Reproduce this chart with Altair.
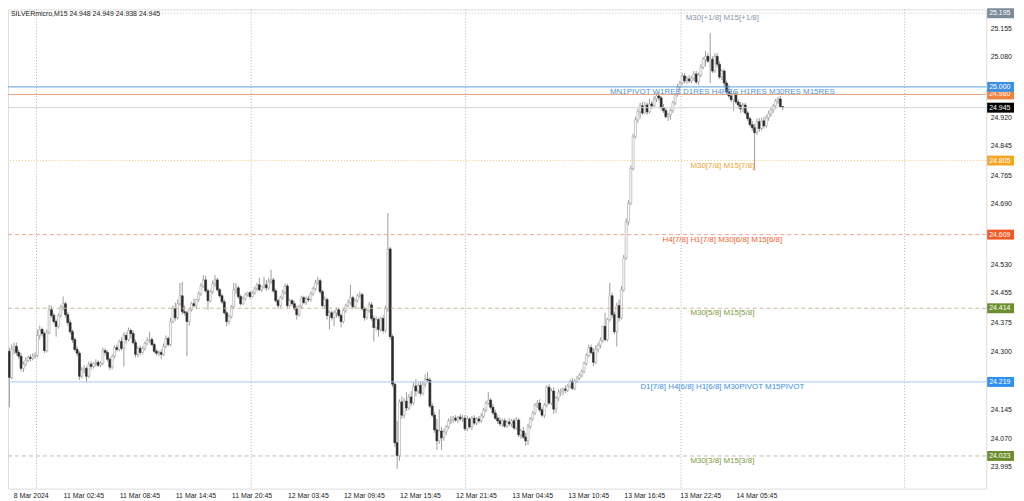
import json
import altair as alt
import pandas as pd

# ---------------- data (SILVERmicro, M15) ----------------
opens = [
    24.300, 24.231, 24.305, 24.313, 24.297, 24.287, 24.255, 24.266, 24.276, 24.284,
    24.281, 24.287, 24.289, 24.342, 24.358, 24.347, 24.302, 24.350, 24.410, 24.395,
    24.379, 24.366, 24.395, 24.418, 24.426, 24.397, 24.376, 24.352, 24.331, 24.305,
    24.295, 24.234, 24.250, 24.255, 24.234, 24.266, 24.260, 24.268, 24.271, 24.263,
    24.268, 24.302, 24.297, 24.279, 24.258, 24.287, 24.310, 24.305, 24.326, 24.308,
    24.342, 24.331, 24.355, 24.347, 24.323, 24.292, 24.308, 24.297, 24.308, 24.321,
    24.329, 24.331, 24.318, 24.300, 24.295, 24.297, 24.292, 24.313, 24.334, 24.318,
    24.379, 24.413, 24.389, 24.426, 24.447, 24.405, 24.402, 24.379, 24.410, 24.426,
    24.421, 24.437, 24.452, 24.473, 24.489, 24.460, 24.434, 24.458, 24.479, 24.489,
    24.463, 24.447, 24.431, 24.402, 24.379, 24.392, 24.418, 24.463, 24.468, 24.445,
    24.426, 24.439, 24.450, 24.455, 24.445, 24.455, 24.466, 24.476, 24.463, 24.471,
    24.476, 24.468, 24.484, 24.489, 24.460, 24.434, 24.421, 24.442, 24.455, 24.473,
    24.421, 24.434, 24.426, 24.413, 24.397, 24.418, 24.442, 24.429, 24.439, 24.437,
    24.452, 24.466, 24.481, 24.487, 24.458, 24.421, 24.437, 24.395, 24.402, 24.389,
    24.402, 24.410, 24.395, 24.379, 24.408, 24.421, 24.429, 24.442, 24.418, 24.434,
    24.447, 24.450, 24.413, 24.389, 24.408, 24.423, 24.387, 24.363, 24.384, 24.358,
    24.387, 24.355, 24.413, 24.571, 24.339, 24.213, 24.058, 24.024, 24.166, 24.131,
    24.168, 24.150, 24.179, 24.163, 24.208, 24.195, 24.210, 24.189, 24.213, 24.226,
    24.224, 24.155, 24.131, 24.092, 24.063, 24.089, 24.071, 24.087, 24.100, 24.116,
    24.118, 24.123, 24.118, 24.126, 24.121, 24.123, 24.095, 24.121, 24.100, 24.123,
    24.110, 24.121, 24.116, 24.129, 24.145, 24.163, 24.171, 24.152, 24.137, 24.123,
    24.116, 24.108, 24.116, 24.102, 24.113, 24.108, 24.116, 24.097, 24.118, 24.079,
    24.089, 24.073, 24.063, 24.100, 24.121, 24.137, 24.158, 24.163, 24.145, 24.131,
    24.158, 24.205, 24.163, 24.195, 24.147, 24.176, 24.192, 24.195, 24.200, 24.197,
    24.208, 24.221, 24.202, 24.221, 24.229, 24.237, 24.247, 24.268, 24.289, 24.310,
    24.297, 24.271, 24.305, 24.316, 24.329, 24.366, 24.331, 24.384, 24.447, 24.397,
    24.352, 24.421, 24.389, 24.463, 24.547, 24.642, 24.692, 24.784, 24.868, 24.913,
    24.934, 24.950, 24.931, 24.952, 24.934, 24.955, 24.950, 24.968, 24.976, 24.971,
    24.945, 24.937, 24.921, 24.926, 24.937, 24.958, 24.979, 25.000, 25.010, 25.029,
    25.016, 25.021, 25.016, 25.023, 25.034, 25.013, 25.031, 25.052, 25.073, 25.081,
    25.068, 25.073, 25.042, 25.081, 25.060, 25.026, 25.042, 25.010, 24.987, 24.976,
    24.966, 24.981, 24.960, 24.952, 24.942, 24.952, 24.931, 24.916, 24.900, 24.892,
    24.879, 24.908, 24.890, 24.910, 24.897, 24.918, 24.929, 24.939, 24.950, 24.963,
    24.968, 24.948,
]
highs = [
    24.310, 24.318, 24.323, 24.323, 24.305, 24.295, 24.273, 24.284, 24.289, 24.292,
    24.295, 24.297, 24.358, 24.368, 24.363, 24.352, 24.358, 24.423, 24.421, 24.402,
    24.384, 24.400, 24.423, 24.445, 24.431, 24.405, 24.384, 24.358, 24.337, 24.313,
    24.300, 24.258, 24.263, 24.260, 24.273, 24.273, 24.271, 24.279, 24.276, 24.273,
    24.310, 24.308, 24.302, 24.284, 24.292, 24.316, 24.318, 24.331, 24.337, 24.350,
    24.350, 24.363, 24.360, 24.355, 24.331, 24.313, 24.316, 24.313, 24.326, 24.337,
    24.352, 24.337, 24.323, 24.305, 24.302, 24.305, 24.321, 24.342, 24.339, 24.389,
    24.421, 24.429, 24.437, 24.481, 24.484, 24.421, 24.408, 24.416, 24.431, 24.439,
    24.439, 24.458, 24.481, 24.502, 24.500, 24.466, 24.463, 24.487, 24.502, 24.495,
    24.468, 24.452, 24.437, 24.408, 24.397, 24.423, 24.481, 24.481, 24.473, 24.450,
    24.445, 24.455, 24.458, 24.460, 24.460, 24.471, 24.481, 24.495, 24.473, 24.497,
    24.489, 24.495, 24.516, 24.495, 24.466, 24.439, 24.447, 24.463, 24.479, 24.479,
    24.439, 24.439, 24.434, 24.421, 24.423, 24.447, 24.447, 24.445, 24.447, 24.458,
    24.471, 24.489, 24.497, 24.492, 24.463, 24.445, 24.442, 24.408, 24.408, 24.408,
    24.416, 24.416, 24.400, 24.413, 24.426, 24.437, 24.476, 24.447, 24.439, 24.452,
    24.458, 24.455, 24.418, 24.413, 24.431, 24.431, 24.395, 24.392, 24.389, 24.392,
    24.395, 24.421, 24.666, 24.576, 24.345, 24.218, 24.116, 24.173, 24.181, 24.176,
    24.192, 24.187, 24.195, 24.218, 24.226, 24.218, 24.221, 24.221, 24.239, 24.245,
    24.231, 24.163, 24.139, 24.121, 24.147, 24.100, 24.095, 24.105, 24.123, 24.129,
    24.129, 24.131, 24.129, 24.134, 24.131, 24.131, 24.129, 24.126, 24.129, 24.131,
    24.126, 24.129, 24.137, 24.150, 24.168, 24.192, 24.176, 24.160, 24.145, 24.131,
    24.126, 24.121, 24.123, 24.118, 24.123, 24.121, 24.123, 24.126, 24.123, 24.095,
    24.100, 24.084, 24.108, 24.126, 24.142, 24.163, 24.171, 24.173, 24.152, 24.163,
    24.210, 24.213, 24.202, 24.205, 24.181, 24.200, 24.202, 24.205, 24.210, 24.213,
    24.226, 24.229, 24.226, 24.234, 24.242, 24.252, 24.273, 24.295, 24.318, 24.318,
    24.308, 24.316, 24.323, 24.337, 24.368, 24.402, 24.389, 24.481, 24.455, 24.405,
    24.429, 24.437, 24.473, 24.555, 24.652, 24.700, 24.792, 24.876, 24.921, 24.942,
    24.958, 24.960, 24.960, 24.958, 24.968, 24.963, 24.976, 24.984, 24.987, 24.976,
    24.955, 24.945, 24.931, 24.942, 24.963, 24.984, 25.008, 25.016, 25.037, 25.037,
    25.029, 25.031, 25.029, 25.042, 25.042, 25.037, 25.060, 25.079, 25.095, 25.089,
    25.142, 25.081, 25.089, 25.089, 25.068, 25.047, 25.047, 25.016, 25.005, 24.995,
    24.989, 24.987, 24.966, 24.960, 24.958, 24.958, 24.937, 24.921, 24.910, 24.902,
    24.916, 24.918, 24.918, 24.921, 24.926, 24.937, 24.947, 24.955, 24.968, 24.974,
    24.976, 24.949,
]
lows = [
    24.152, 24.226, 24.292, 24.289, 24.279, 24.247, 24.245, 24.260, 24.271, 24.273,
    24.276, 24.281, 24.284, 24.331, 24.339, 24.295, 24.297, 24.345, 24.389, 24.374,
    24.339, 24.360, 24.389, 24.408, 24.389, 24.368, 24.345, 24.323, 24.300, 24.287,
    24.224, 24.229, 24.242, 24.218, 24.229, 24.252, 24.255, 24.260, 24.258, 24.258,
    24.263, 24.289, 24.273, 24.250, 24.252, 24.281, 24.300, 24.300, 24.302, 24.260,
    24.321, 24.326, 24.334, 24.318, 24.284, 24.284, 24.289, 24.292, 24.302, 24.316,
    24.323, 24.313, 24.295, 24.289, 24.287, 24.279, 24.287, 24.308, 24.313, 24.313,
    24.374, 24.381, 24.384, 24.421, 24.397, 24.395, 24.287, 24.368, 24.405, 24.416,
    24.413, 24.431, 24.447, 24.468, 24.455, 24.410, 24.429, 24.452, 24.471, 24.458,
    24.442, 24.426, 24.397, 24.366, 24.371, 24.387, 24.413, 24.452, 24.439, 24.421,
    24.423, 24.434, 24.445, 24.439, 24.442, 24.450, 24.460, 24.460, 24.458, 24.466,
    24.460, 24.463, 24.479, 24.455, 24.429, 24.413, 24.416, 24.437, 24.450, 24.413,
    24.416, 24.421, 24.408, 24.384, 24.392, 24.413, 24.426, 24.423, 24.431, 24.431,
    24.447, 24.460, 24.476, 24.452, 24.416, 24.413, 24.384, 24.358, 24.381, 24.366,
    24.389, 24.389, 24.363, 24.374, 24.402, 24.416, 24.423, 24.413, 24.413, 24.429,
    24.442, 24.408, 24.381, 24.384, 24.402, 24.381, 24.326, 24.355, 24.339, 24.352,
    24.347, 24.350, 24.405, 24.331, 24.205, 24.047, 23.989, 24.010, 24.121, 24.123,
    24.142, 24.145, 24.155, 24.158, 24.181, 24.187, 24.181, 24.184, 24.205, 24.218,
    24.150, 24.126, 24.084, 24.039, 24.055, 24.039, 24.063, 24.079, 24.095, 24.108,
    24.110, 24.113, 24.110, 24.116, 24.113, 24.089, 24.089, 24.095, 24.092, 24.105,
    24.105, 24.110, 24.110, 24.123, 24.139, 24.158, 24.147, 24.131, 24.118, 24.108,
    24.102, 24.100, 24.097, 24.097, 24.102, 24.100, 24.092, 24.092, 24.073, 24.068,
    24.068, 24.050, 24.052, 24.095, 24.116, 24.131, 24.150, 24.139, 24.126, 24.123,
    24.152, 24.158, 24.158, 24.134, 24.137, 24.168, 24.181, 24.184, 24.189, 24.192,
    24.202, 24.197, 24.197, 24.216, 24.224, 24.231, 24.242, 24.263, 24.284, 24.292,
    24.260, 24.266, 24.297, 24.308, 24.323, 24.326, 24.326, 24.379, 24.389, 24.345,
    24.313, 24.379, 24.384, 24.458, 24.542, 24.634, 24.687, 24.779, 24.863, 24.905,
    24.916, 24.926, 24.929, 24.926, 24.929, 24.942, 24.945, 24.960, 24.963, 24.939,
    24.931, 24.916, 24.910, 24.913, 24.931, 24.952, 24.974, 24.989, 25.005, 25.010,
    25.008, 25.010, 25.010, 25.016, 25.008, 25.005, 25.026, 25.047, 25.055, 25.063,
    25.010, 25.037, 25.037, 25.052, 25.021, 25.018, 25.000, 24.981, 24.971, 24.960,
    24.937, 24.955, 24.942, 24.931, 24.934, 24.926, 24.910, 24.895, 24.884, 24.779,
    24.873, 24.881, 24.884, 24.890, 24.892, 24.910, 24.921, 24.931, 24.942, 24.955,
    24.947, 24.938,
]
closes = [
    24.231, 24.305, 24.313, 24.297, 24.287, 24.255, 24.266, 24.276, 24.284, 24.281,
    24.287, 24.289, 24.342, 24.358, 24.347, 24.302, 24.350, 24.410, 24.395, 24.379,
    24.366, 24.395, 24.418, 24.426, 24.397, 24.376, 24.352, 24.331, 24.305, 24.295,
    24.234, 24.250, 24.255, 24.234, 24.266, 24.260, 24.268, 24.271, 24.263, 24.268,
    24.302, 24.297, 24.279, 24.258, 24.287, 24.310, 24.305, 24.326, 24.308, 24.342,
    24.331, 24.355, 24.347, 24.323, 24.292, 24.308, 24.297, 24.308, 24.321, 24.329,
    24.331, 24.318, 24.300, 24.295, 24.297, 24.292, 24.313, 24.334, 24.318, 24.379,
    24.413, 24.389, 24.426, 24.447, 24.405, 24.402, 24.379, 24.410, 24.426, 24.421,
    24.437, 24.452, 24.473, 24.489, 24.460, 24.434, 24.458, 24.479, 24.489, 24.463,
    24.447, 24.431, 24.402, 24.379, 24.392, 24.418, 24.463, 24.468, 24.445, 24.426,
    24.439, 24.450, 24.455, 24.445, 24.455, 24.466, 24.476, 24.463, 24.471, 24.476,
    24.468, 24.484, 24.489, 24.460, 24.434, 24.421, 24.442, 24.455, 24.473, 24.421,
    24.434, 24.426, 24.413, 24.397, 24.418, 24.442, 24.429, 24.439, 24.437, 24.452,
    24.466, 24.481, 24.487, 24.458, 24.421, 24.437, 24.395, 24.402, 24.389, 24.402,
    24.410, 24.395, 24.379, 24.408, 24.421, 24.429, 24.442, 24.418, 24.434, 24.447,
    24.450, 24.413, 24.389, 24.408, 24.423, 24.387, 24.363, 24.384, 24.358, 24.387,
    24.355, 24.413, 24.571, 24.339, 24.213, 24.058, 24.024, 24.166, 24.131, 24.168,
    24.150, 24.179, 24.163, 24.208, 24.195, 24.210, 24.189, 24.213, 24.226, 24.224,
    24.155, 24.131, 24.092, 24.063, 24.089, 24.071, 24.087, 24.100, 24.116, 24.118,
    24.123, 24.118, 24.126, 24.121, 24.123, 24.095, 24.121, 24.100, 24.123, 24.110,
    24.121, 24.116, 24.129, 24.145, 24.163, 24.171, 24.152, 24.137, 24.123, 24.116,
    24.108, 24.116, 24.102, 24.113, 24.108, 24.116, 24.097, 24.118, 24.079, 24.089,
    24.073, 24.063, 24.100, 24.121, 24.137, 24.158, 24.163, 24.145, 24.131, 24.158,
    24.205, 24.163, 24.195, 24.147, 24.176, 24.192, 24.195, 24.200, 24.197, 24.208,
    24.221, 24.202, 24.221, 24.229, 24.237, 24.247, 24.268, 24.289, 24.310, 24.297,
    24.271, 24.305, 24.316, 24.329, 24.366, 24.331, 24.384, 24.447, 24.397, 24.352,
    24.421, 24.389, 24.463, 24.547, 24.642, 24.692, 24.784, 24.868, 24.913, 24.934,
    24.950, 24.931, 24.952, 24.934, 24.955, 24.950, 24.968, 24.976, 24.971, 24.945,
    24.937, 24.921, 24.926, 24.937, 24.958, 24.979, 25.000, 25.010, 25.029, 25.016,
    25.021, 25.016, 25.023, 25.034, 25.013, 25.031, 25.052, 25.073, 25.081, 25.068,
    25.073, 25.042, 25.081, 25.060, 25.026, 25.042, 25.010, 24.987, 24.976, 24.966,
    24.981, 24.960, 24.952, 24.942, 24.952, 24.931, 24.916, 24.900, 24.892, 24.879,
    24.908, 24.890, 24.910, 24.897, 24.918, 24.929, 24.939, 24.950, 24.963, 24.968,
    24.948, 24.945,
]

# time axis: bar position of each label (every 24 bars of 15 minutes);
# the first label sits at the left edge of the visible window
tick_bars = [1.6, 23, 47, 71, 95, 119, 143, 167, 191, 215, 239, 263, 287, 311]
tick_labels = ["8 Mar 2024", "11 Mar 02:45", "11 Mar 08:45", "11 Mar 14:45",
               "11 Mar 20:45", "12 Mar 03:45", "12 Mar 09:45", "12 Mar 15:45",
               "12 Mar 21:45", "13 Mar 04:45", "13 Mar 10:45", "13 Mar 16:45",
               "13 Mar 22:45", "14 Mar 05:45"]
price_ticks = [25.155, 25.080, 25.000, 24.920, 24.845, 24.765, 24.690, 24.610,
               24.530, 24.455, 24.375, 24.300, 24.220, 24.145, 24.070, 23.995]
grid_bars = [11.6, 103.5, 195.3, 287.5, 383.2]

# Murrey / pivot levels
level_prices = [25.195, 25.000, 24.980, 24.805, 24.609, 24.414, 24.219, 24.023]
level_names = ["M30[+1/8] M15[+1/8]",
               "MN1PIVOT W1RES D1RES H4RES H1RES M30RES M15RES",
               "",
               "M30[7/8] M15[7/8]",
               "H4[7/8] H1[7/8] M30[6/8] M15[6/8]",
               "M30[5/8] M15[5/8]",
               "D1[7/8] H4[6/8] H1[6/8] M30PIVOT M15PIVOT",
               "M30[3/8] M15[3/8]"]
level_line_colors = ["#c4c4c4", "#5a9fdc", "#e8a57e", "#f3c47a", "#eda58e",
                     "#c9b8a2", "#a8c8e6", "#c9b8a2"]
level_dashes = [[1, 2], [], [], [1, 2], [4, 3], [4, 3], [], [4, 3]]
level_text_colors = ["#8796a8", "#4f95d8", "#e8a57e", "#f0a530", "#f0642d",
                     "#7d9a3c", "#3d8fe0", "#7d9a3c"]
bid_price = 24.945
label_anchor_bar = 305.2
title_text = "SILVERmicro,M15  24.948 24.949 24.938 24.945"

# price boxes on the right scale (drawn in MT4 stacking order)
box_prices = [25.195, 24.980, 25.000, 24.945, 24.805, 24.609, 24.414, 24.219, 24.023]
box_colors = ["#7d8a99", "#f0823e", "#3f8fe0", "#000000", "#f5a623", "#f15a24",
              "#6d8e2f", "#2e90f0", "#6d8e2f"]

# ---------------- chart ----------------
W, H = 984, 482
FONT = "Liberation Sans"
xs = alt.Scale(domain=[1.53, 416.0], nice=False, zero=False)
ys = alt.Scale(domain=[23.9366, 25.205], nice=False, zero=False)

label_expr = json.dumps(tick_labels) + "[round((datum.value + 1) / 24)]"
x_axis = alt.Axis(values=tick_bars, labelExpr=label_expr, title=None, grid=False,
                  ticks=False, domain=False, labelFontSize=7, labelColor="#1a1a1a",
                  labelAlign="left", labelBaseline="top", labelPadding=3,
                  labelFlush=False, labelOverlap=False, labelFont=FONT)
y_axis = alt.Axis(values=price_ticks, format=".3f", title=None, grid=False,
                  ticks=False, domain=False, orient="right", labelFontSize=7,
                  labelColor="#1a1a1a", labelPadding=4, labelOverlap=False,
                  labelFont=FONT)

candles = pd.DataFrame({"i": list(range(len(closes))), "o": opens, "h": highs,
                        "l": lows, "c": closes})
candles["dir"] = ["up" if c >= o else "down" for o, c in zip(opens, closes)]

X = lambda f: alt.X(f, scale=xs, axis=x_axis)
Y = lambda f: alt.Y(f, scale=ys, axis=y_axis)

layers = []

grid = alt.Chart(pd.DataFrame({"g": grid_bars})).mark_rule(
    color="#b4b4b4", strokeDash=[1, 2], strokeWidth=1).encode(x=X("g:Q"))
layers.append(grid)

wicks = alt.Chart(candles).mark_rule(color="#9c9c9c", strokeWidth=1).encode(
    x=X("i:Q"), y=Y("l:Q"), y2="h:Q")
layers.append(wicks)

bodies = alt.Chart(candles).mark_bar(size=2, strokeWidth=0.6).encode(
    x=X("i:Q"), y=Y("o:Q"), y2="c:Q",
    fill=alt.Fill("dir:N", scale=alt.Scale(domain=["up", "down"], range=["#ffffff", "#2b2b2b"]), legend=None),
    stroke=alt.Stroke("dir:N", scale=alt.Scale(domain=["up", "down"], range=["#a3a3a3", "#2b2b2b"]), legend=None))
layers.append(bodies)

bid = alt.Chart(pd.DataFrame({"p": [bid_price]})).mark_rule(
    color="#d6d6d6", strokeWidth=1).encode(y=Y("p:Q"))
layers.append(bid)

for p, col, dash in zip(level_prices, level_line_colors, level_dashes):
    kw = {"color": col, "strokeWidth": 1}
    if dash:
        kw["strokeDash"] = dash
    layers.append(alt.Chart(pd.DataFrame({"p": [p]})).mark_rule(**kw).encode(y=Y("p:Q")))

texts = pd.DataFrame({"b": [label_anchor_bar] * len(level_prices), "p": level_prices,
                      "t": level_names, "tc": level_text_colors})
texts = texts[texts["t"] != ""]
layers.append(alt.Chart(texts).mark_text(align="center", baseline="top", dy=1,
                                         fontSize=8, font=FONT).encode(
    x=X("b:Q"), y=Y("p:Q"), text="t:N", color=alt.Color("tc:N", scale=None)))

for p, col in zip(box_prices, box_colors):
    d = pd.DataFrame({"p": [p], "t": [f"{p:.3f}"]})
    layers.append(alt.Chart(d).mark_rect(color=col, yOffset=-5, y2Offset=5).encode(
        x=alt.value(W + 1), x2=alt.value(W + 28), y=Y("p:Q"), y2="p:Q"))
    layers.append(alt.Chart(d).mark_text(align="left", baseline="middle", fontSize=7,
                                         color="#ffffff", font=FONT).encode(
        x=alt.value(W + 3), y=Y("p:Q"), text="t:N"))

layers.append(alt.Chart(pd.DataFrame({"t": [title_text]})).mark_text(
    align="left", baseline="top", fontSize=7, color="#222222", font=FONT).encode(
    x=alt.value(3), y=alt.value(1), text="t:N"))

chart = alt.layer(*layers).properties(
    width=W, height=H,
    autosize=alt.AutoSizeParams(type="none"),
    padding={"left": 0, "top": 0, "right": 30, "bottom": 11},
    background="#ffffff",
).configure_view(stroke="#8c8c8c", strokeWidth=1).configure(font=FONT)

chart.save("out.html", embed_options={"renderer": "svg", "actions": False})
